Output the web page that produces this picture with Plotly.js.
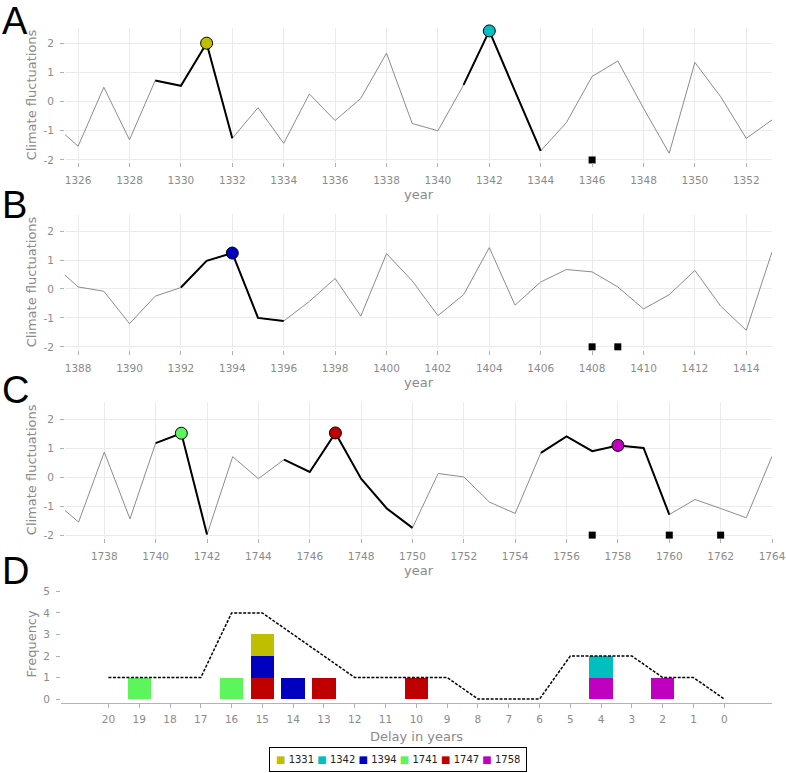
<!DOCTYPE html>
<html><head><meta charset="utf-8">
<script src="https://cdn.plot.ly/plotly-3.0.1.min.js"></script>
<style>html,body{margin:0;padding:0;background:#fff}</style>
</head><body><div id="chart" style="width:786px;height:773px"></div>
<script>
// ---------- Panel A ----------
const yearsA  = [1325,1326,1327,1328,1329,1330,1331,1332,1333,1334,1335,1336,1337,1338,1339,1340,1341,1342,1343,1344,1345,1346,1347,1348,1349,1350,1351,1352,1353];
const valuesA = [-0.75,-1.53,0.49,-1.31,0.72,0.54,2.00,-1.26,-0.21,-1.43,0.26,-0.65,0.11,1.66,-0.75,-1.00,0.57,2.42,0.36,-1.69,-0.72,0.86,1.39,-0.23,-1.77,1.34,0.17,-1.26,-0.63];
const segmentsA = [[1329,1332],[1341,1344]];
const peaksA = [1331,1342];
const eventsA = [1346];
const tickYearsA = [1326,1328,1330,1332,1334,1336,1338,1340,1342,1344,1346,1348,1350,1352];

// ---------- Panel B ----------
const yearsB  = [1387,1388,1389,1390,1391,1392,1393,1394,1395,1396,1397,1398,1399,1400,1401,1402,1403,1404,1405,1406,1407,1408,1409,1410,1411,1412,1413,1414,1415];
const valuesB = [0.87,0.07,-0.08,-1.20,-0.25,0.05,0.97,1.24,-1.00,-1.11,-0.43,0.36,-0.94,1.22,0.28,-0.92,-0.20,1.43,-0.56,0.24,0.67,0.59,0.07,-0.69,-0.20,0.64,-0.59,-1.43,1.28];
const segmentsB = [[1392,1396]];
const peaksB = [1394];
const eventsB = [1408,1409];
const tickYearsB = [1388,1390,1392,1394,1396,1398,1400,1402,1404,1406,1408,1410,1412,1414];

// ---------- Panel C ----------
const yearsC  = [1736,1737,1738,1739,1740,1741,1742,1743,1744,1745,1746,1747,1748,1749,1750,1751,1752,1753,1754,1755,1756,1757,1758,1759,1760,1761,1762,1763,1764];
const valuesC = [-0.79,-1.55,0.87,-1.44,1.18,1.52,-1.98,0.71,-0.05,0.61,0.18,1.53,-0.05,-1.08,-1.75,0.13,0.01,-0.86,-1.25,0.84,1.41,0.90,1.10,1.01,-1.29,-0.77,-1.08,-1.40,0.72];
const segmentsC = [[1740,1742],[1745,1750],[1755,1760]];
const peaksC = [1741,1747,1758];
const eventsC = [1757,1760,1762];
const tickYearsC = [1738,1740,1742,1744,1746,1748,1750,1752,1754,1756,1758,1760,1762,1764];

const eventLevel = -2;
const climTickVals = [-2,-1,0,1,2];
const climTickText = ['-2','-1','0','1','2'];

// ---------- Panel D ----------
const peakYears  = [1331,1342,1394,1741,1747,1758];
const peakColors = ['#BFBF00','#00BFBF','#0000BF','#5CF55C','#BF0000','#BF00BF'];
const delays = [20,19,18,17,16,15,14,13,12,11,10,9,8,7,6,5,4,3,2,1,0];
const count1331 = [0,0,0,0,0,1,0,0,0,0,0,0,0,0,0,0,0,0,0,0,0];
const count1342 = [0,0,0,0,0,0,0,0,0,0,0,0,0,0,0,0,1,0,0,0,0];
const count1394 = [0,0,0,0,0,1,1,0,0,0,0,0,0,0,0,0,0,0,0,0,0];
const count1741 = [0,1,0,0,1,0,0,0,0,0,0,0,0,0,0,0,0,0,0,0,0];
const count1747 = [0,0,0,0,0,1,0,1,0,0,1,0,0,0,0,0,0,0,0,0,0];
const count1758 = [0,0,0,0,0,0,0,0,0,0,0,0,0,0,0,0,1,0,1,0,0];
const windowFreq = [1,1,1,1,4,4,3,2,1,1,1,1,0,0,0,2,2,2,1,1,0];
const freqTickVals = [0,1,2,3,4,5];

const counts = [count1331,count1342,count1394,count1741,count1747,count1758];
const colorOf = {};
peakYears.forEach((p,i)=>colorOf[p]=peakColors[i]);

const FONT = 'DejaVu Sans, Verdana, sans-serif';
const GREY = '#8a8a8a';
const TICKSIZE = 10.5;
const traces = [];

function panel(years, values, segments, peaks, events, xa, ya){
  traces.push({type:'scatter', mode:'lines', x:years, y:values, xaxis:xa, yaxis:ya,
    line:{color:'#8c8c8c', width:1}, hoverinfo:'skip', showlegend:false});
  segments.forEach(([s,e])=>{
    const xs=[], ys=[];
    years.forEach((yr,i)=>{ if(yr>=s && yr<=e){ xs.push(yr); ys.push(values[i]); } });
    traces.push({type:'scatter', mode:'lines', x:xs, y:ys, xaxis:xa, yaxis:ya,
      line:{color:'#000', width:2}, showlegend:false});
  });
  peaks.forEach(p=>{
    const i = years.indexOf(p);
    traces.push({type:'scatter', mode:'markers', x:[p], y:[values[i]], xaxis:xa, yaxis:ya, cliponaxis:false,
      marker:{size:12, color:colorOf[p], line:{color:'#000', width:1}}, showlegend:false});
  });
  traces.push({type:'scatter', mode:'markers', x:events, y:events.map(()=>eventLevel), xaxis:xa, yaxis:ya,
    cliponaxis:false, marker:{symbol:'square', size:7, color:'#000'}, showlegend:false});
}
panel(yearsA, valuesA, segmentsA, peaksA, eventsA, 'x', 'y');
panel(yearsB, valuesB, segmentsB, peaksB, eventsB, 'x2', 'y2');
panel(yearsC, valuesC, segmentsC, peaksC, eventsC, 'x3', 'y3');

// bars: reversed order so the later years sit at the bottom of each stack
for(let k=peakYears.length-1;k>=0;k--){
  const xs=[], ys=[];
  delays.forEach((d,i)=>{ if(counts[k][i]>0){ xs.push(d); ys.push(counts[k][i]); } });
  traces.push({type:'bar', x:xs, y:ys, xaxis:'x4', yaxis:'y4', width:0.76,
    marker:{color:peakColors[k], line:{width:0}}, name:String(peakYears[k]), showlegend:false});
}
traces.push({type:'scatter', mode:'lines', x:delays, y:windowFreq, xaxis:'x4', yaxis:'y4',
  line:{color:'#000', width:1.5, dash:'3px,1.5px'}, showlegend:false});

const W=786, H=773;
const px = v=>v/W, py = v=>1-v/H;

function climX(range, ticks){
  return {domain:[px(65), px(772)], range:range, tickvals:ticks, ticks:'outside', ticklen:4,
    tickcolor:'#b0b0b0', showgrid:true, gridcolor:'#ebebeb', gridwidth:1, zeroline:false, showline:false,
    ticklabelstandoff:4,
    tickfont:{family:FONT, size:TICKSIZE, color:GREY},
    title:{text:'year', font:{family:FONT, size:13, color:GREY}, standoff:5}};
}
function climY(range, top, bottom){
  return {domain:[py(bottom), py(top)], range:range, tickvals:climTickVals, ticktext:climTickText,
    ticks:'outside', ticklen:4, tickcolor:'#b0b0b0', showgrid:true, gridcolor:'#ebebeb', gridwidth:1,
    zeroline:false, showline:false, ticklabelstandoff:4, tickfont:{family:FONT, size:TICKSIZE, color:GREY},
    title:{text:'Climate fluctuations', font:{family:FONT, size:13, color:GREY}, standoff:3}};
}

// legend built as text from the data arrays
const legendText = peakYears.map((p,i)=>'<span style="color:'+peakColors[i]+'">■</span> '+p).join('&nbsp;');

const letters = [['A',21],['B',205],['C',390],['D',570.5]].map(([t,y])=>({
  text:t, xref:'paper', yref:'paper', x:0, y:py(y), xanchor:'left', yanchor:'middle',
  showarrow:false, font:{family:'Liberation Sans, Arial, sans-serif', size:38, color:'#000'}}));

const layout = {
  width:W, height:H, margin:{l:0,r:0,t:0,b:0}, paper_bgcolor:'#fff', plot_bgcolor:'#fff',
  showlegend:false, barmode:'stack',
  xaxis: climX([1325.49,1353], tickYearsA),
  yaxis: climY([-2.07,2.52], 28, 162),
  xaxis2: Object.assign(climX([1387.49,1415], tickYearsB), {anchor:'y2'}),
  yaxis2: Object.assign(climY([-2.11,2.59], 214, 350), {anchor:'x2'}),
  xaxis3: Object.assign(climX([1736.47,1764], tickYearsC), {anchor:'y3'}),
  yaxis3: Object.assign(climY([-2.1,2.61], 401.7, 538), {anchor:'x3'}),
  xaxis4: {anchor:'y4', domain:[px(61), px(772)], range:[21.54,-1.55], tickvals:delays,
    ticks:'outside', ticklen:4, tickcolor:'#b0b0b0', showgrid:false, zeroline:false,
    showline:true, linecolor:'#b3b3b3', linewidth:1, ticklabelstandoff:3,
    tickfont:{family:FONT, size:TICKSIZE, color:GREY},
    title:{text:'Delay in years', font:{family:FONT, size:13, color:GREY}, standoff:7}},
  yaxis4: {anchor:'x4', domain:[py(702.7), py(585)], range:[-0.17,5.3], tickvals:freqTickVals,
    ticks:'outside', ticklen:4, tickcolor:'#b0b0b0', showgrid:false, zeroline:false, showline:false,
    ticklabelstandoff:4, tickfont:{family:FONT, size:TICKSIZE, color:GREY},
    title:{text:'Frequency', font:{family:FONT, size:13, color:GREY}, standoff:3}},
  annotations: letters.concat([{
    text:legendText, xref:'paper', yref:'paper', x:px(398), y:py(759.5), xanchor:'center', yanchor:'middle',
    showarrow:false, bordercolor:'#000', borderwidth:1, borderpad:6, bgcolor:'#fff',
    font:{family:FONT, size:10, color:'#222'}}])
};

Plotly.newPlot('chart', traces, layout, {displayModeBar:false, staticPlot:true});
</script></body></html>
